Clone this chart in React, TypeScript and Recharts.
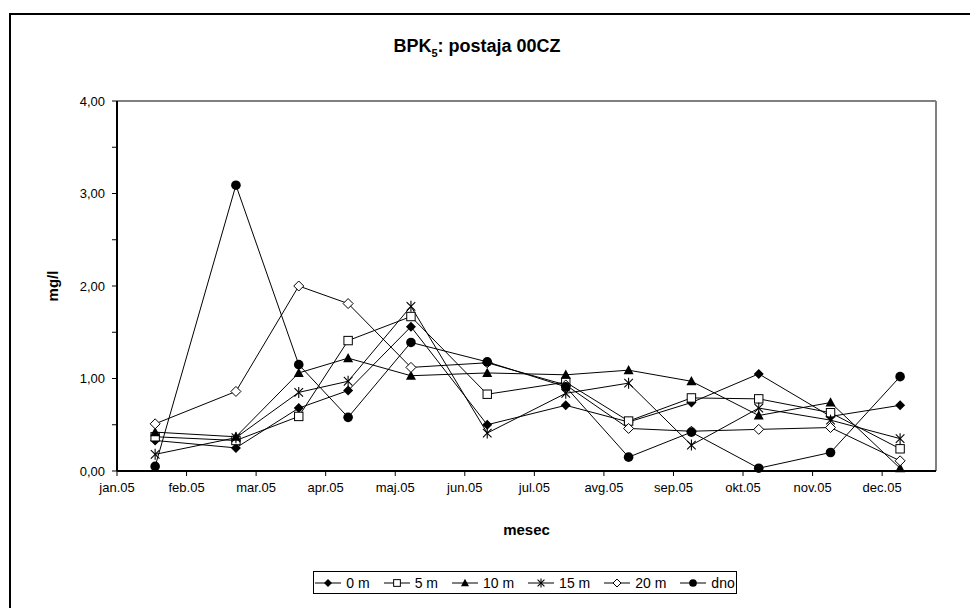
import React from 'react';
import { LineChart, Line, XAxis, YAxis, ReferenceLine } from 'recharts';

// datumi meritev (dan v letu 2005, 0 = 1. jan.)
const days = [17, 53, 81, 103, 131, 165, 200, 228, 256, 286, 318, 349];

const s0m = [0.33, 0.25, 0.68, 0.87, 1.56, 0.5, 0.71, 0.53, 0.74, 1.05, 0.59, 0.71];
const s5m = [0.37, 0.33, 0.59, 1.41, 1.67, 0.83, 0.96, 0.54, 0.79, 0.78, 0.63, 0.24];
const s10m = [0.42, 0.37, 1.06, 1.22, 1.03, 1.06, 1.04, 1.09, 0.97, 0.6, 0.74, 0.03];
const s15m = [0.18, 0.36, 0.85, 0.97, 1.78, 0.41, 0.84, 0.95, 0.28, 0.68, 0.55, 0.35];
const s20m = [0.51, 0.86, 2.0, 1.81, 1.12, 1.17, 0.93, 0.46, 0.43, 0.45, 0.47, 0.11];
const sDno = [0.05, 3.09, 1.15, 0.58, 1.39, 1.18, 0.91, 0.15, 0.42, 0.03, 0.2, 1.02];

const xTicks = [0, 31, 62, 93, 124, 155, 186, 217, 248, 279, 310, 341];
const yTicks = [0, 0.5, 1, 1.5, 2, 2.5, 3, 3.5, 4];
const months = ['jan', 'feb', 'mar', 'apr', 'maj', 'jun', 'jul', 'avg', 'sep', 'okt', 'nov', 'dec'];

const data = days.map((d, i) => ({
  day: d,
  m0: s0m[i],
  m5: s5m[i],
  m10: s10m[i],
  m15: s15m[i],
  m20: s20m[i],
  dno: sDno[i],
}));

const font = '"Liberation Sans", Arial, sans-serif';

type Shape = 'diamond' | 'square' | 'triangle' | 'star' | 'odiamond' | 'circle';

const Marker = ({ shape, cx, cy, s = 1 }: { shape: Shape; cx: number; cy: number; s?: number }) => {
  switch (shape) {
    case 'diamond':
      return <polygon points={`${cx},${cy - 5 * s} ${cx + 5 * s},${cy} ${cx},${cy + 5 * s} ${cx - 5 * s},${cy}`} fill="#000" />;
    case 'odiamond':
      return <polygon points={`${cx},${cy - 5 * s} ${cx + 5 * s},${cy} ${cx},${cy + 5 * s} ${cx - 5 * s},${cy}`} fill="#fff" stroke="#000" strokeWidth={1} />;
    case 'square':
      return <rect x={cx - 4.2 * s} y={cy - 4.2 * s} width={8.4 * s} height={8.4 * s} fill="#fff" stroke="#000" strokeWidth={1} />;
    case 'triangle':
      return <polygon points={`${cx},${cy - 5.2 * s} ${cx + 5 * s},${cy + 4 * s} ${cx - 5 * s},${cy + 4 * s}`} fill="#000" />;
    case 'star':
      return (
        <g stroke="#000" strokeWidth={1.1}>
          <line x1={cx - 4.3 * s} y1={cy - 4.3 * s} x2={cx + 4.3 * s} y2={cy + 4.3 * s} />
          <line x1={cx - 4.3 * s} y1={cy + 4.3 * s} x2={cx + 4.3 * s} y2={cy - 4.3 * s} />
          <line x1={cx} y1={cy - 5.5 * s} x2={cx} y2={cy + 5.5 * s} />
        </g>
      );
    default:
      return <circle cx={cx} cy={cy} r={4.8 * s} fill="#000" />;
  }
};

const dotOf = (shape: Shape) => (p: any) => (
  <g key={`${shape}-${p.index}`}>
    <Marker shape={shape} cx={p.cx} cy={p.cy} />
  </g>
);

const series: { key: string; name: string; shape: Shape }[] = [
  { key: 'm0', name: '0 m', shape: 'diamond' },
  { key: 'm5', name: '5 m', shape: 'square' },
  { key: 'm10', name: '10 m', shape: 'triangle' },
  { key: 'm15', name: '15 m', shape: 'star' },
  { key: 'm20', name: '20 m', shape: 'odiamond' },
  { key: 'dno', name: 'dno', shape: 'circle' },
];

const fmtY = (v: number) => (v % 1 === 0 ? v.toFixed(2).replace('.', ',') : '');
const fmtX = (v: number) => {
  const d = new Date(2005, 0, 1 + v);
  return `${months[d.getMonth()]}.05`;
};

export default function App() {
  return (
    <div
      style={{
        position: 'absolute',
        left: 0,
        top: 0,
        width: 970,
        height: 608,
        overflow: 'hidden',
        background: '#fff',
        fontFamily: font,
      }}
    >
      <div
        style={{
          position: 'absolute',
          left: 9,
          top: 13,
          right: 0,
          bottom: 0,
          borderLeft: '2px solid #000',
          borderTop: '2px solid #000',
        }}
      />
      <div
        style={{
          position: 'absolute',
          left: 0,
          width: 954,
          top: 36,
          textAlign: 'center',
          fontWeight: 'bold',
          fontSize: 18,
        }}
      >
        BPK<sub style={{ fontSize: 11 }}>5</sub>: postaja 00CZ
      </div>
      <LineChart
        width={970}
        height={608}
        data={data}
        margin={{ top: 101, right: 34, bottom: 107, left: 57 }}
        style={{ position: 'absolute', left: 0, top: 0 }}
      >
        <XAxis
          dataKey="day"
          type="number"
          domain={[0, 365]}
          ticks={xTicks}
          tickFormatter={fmtX}
          interval={0}
          height={30}
          tickSize={5}
          tickMargin={7}
          axisLine={{ stroke: '#000', strokeWidth: 2 }}
          tickLine={{ stroke: '#000' }}
          tick={{ fill: '#000', fontSize: 13, fontFamily: font }}
          label={{ value: 'mesec', position: 'bottom', offset: 23, fill: '#000', fontSize: 15, fontWeight: 'bold', fontFamily: font }}
        />
        <YAxis
          domain={[0, 4]}
          ticks={yTicks}
          tickFormatter={fmtY}
          interval={0}
          width={60}
          tickSize={5}
          tickMargin={7}
          axisLine={{ stroke: '#000', strokeWidth: 2 }}
          tickLine={{ stroke: '#000' }}
          tick={{ fill: '#000', fontSize: 13, fontFamily: font }}
          label={{ value: 'mg/l', angle: -90, position: 'left', offset: 4, fill: '#000', fontSize: 15, fontWeight: 'bold', fontFamily: font, style: { textAnchor: 'middle' } }}
        />
        <ReferenceLine y={4} stroke="#808080" strokeWidth={2} />
        <ReferenceLine x={365} stroke="#808080" strokeWidth={2} />
        {series.map((s) => (
          <Line
            key={s.key}
            dataKey={s.key}
            name={s.name}
            type="linear"
            stroke="#000"
            strokeWidth={1}
            dot={dotOf(s.shape)}
            activeDot={false}
            isAnimationActive={false}
          />
        ))}
      </LineChart>
      <div
        style={{
          position: 'absolute',
          left: 313,
          top: 571,
          width: 422,
          height: 21,
          border: '1px solid #000',
          display: 'flex',
          alignItems: 'center',
          justifyContent: 'center',
          fontSize: 14,
          gap: 14,
        }}
      >
        {series.map((s) => (
          <div key={s.key} style={{ display: 'flex', alignItems: 'center', gap: 5 }}>
            <svg width={26} height={12}>
              <line x1={0} y1={6} x2={26} y2={6} stroke="#000" strokeWidth={1} />
              <Marker shape={s.shape} cx={13} cy={6} s={0.8} />
            </svg>
            <span>{s.name}</span>
          </div>
        ))}
      </div>
    </div>
  );
}
